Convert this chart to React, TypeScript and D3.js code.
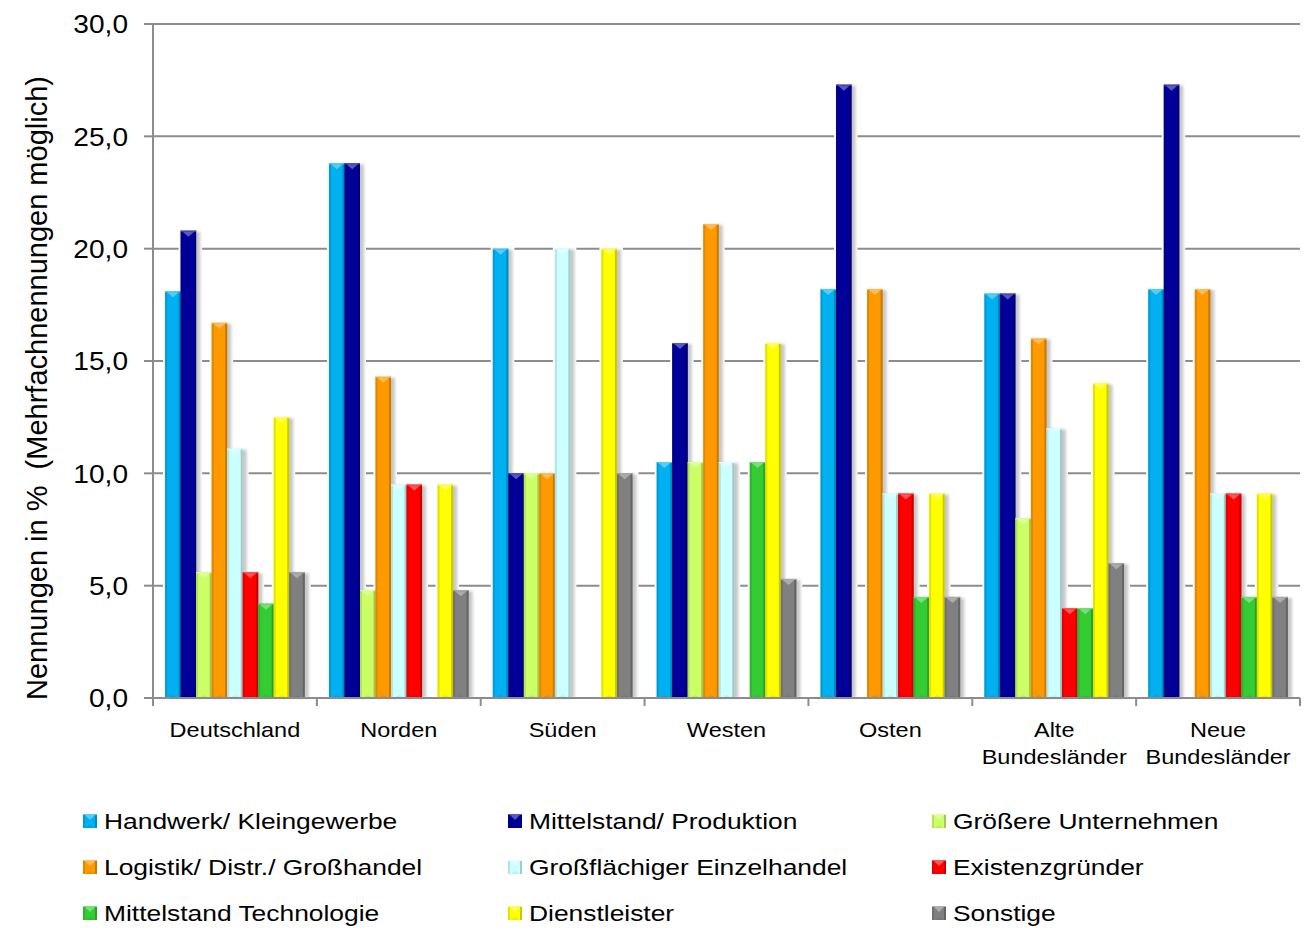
import React from "react";
import * as d3 from "d3";

const categories = [
  ["Deutschland"],
  ["Norden"],
  ["Süden"],
  ["Westen"],
  ["Osten"],
  ["Alte", "Bundesländer"],
  ["Neue", "Bundesländer"],
];

const seriesNames = [
  "Handwerk/ Kleingewerbe",
  "Mittelstand/ Produktion",
  "Größere Unternehmen",
  "Logistik/ Distr./ Großhandel",
  "Großflächiger Einzelhandel",
  "Existenzgründer",
  "Mittelstand Technologie",
  "Dienstleister",
  "Sonstige",
];

const seriesColors = [
  "#00b0f0", "#000099", "#ccff66", "#ff9900", "#ccffff",
  "#ff0000", "#33cc33", "#ffff00", "#808080",
];

// values per series, one entry per category
const handwerk = [18.1, 23.8, 20.0, 10.5, 18.2, 18.0, 18.2];
const mittelstand = [20.8, 23.8, 10.0, 15.8, 27.3, 18.0, 27.3];
const groessere = [5.6, 4.8, 10.0, 10.5, 0, 8.0, 0];
const logistik = [16.7, 14.3, 10.0, 21.1, 18.2, 16.0, 18.2];
const grossflaechig = [11.1, 9.5, 20.0, 10.5, 9.1, 12.0, 9.1];
const existenz = [5.6, 9.5, 0, 0, 9.1, 4.0, 9.1];
const technologie = [4.2, 0, 0, 10.5, 4.5, 4.0, 4.5];
const dienstleister = [12.5, 9.5, 20.0, 15.8, 9.1, 14.0, 9.1];
const sonstige = [5.6, 4.8, 10.0, 5.3, 4.5, 6.0, 4.5];

const seriesValues = [
  handwerk, mittelstand, groessere, logistik, grossflaechig,
  existenz, technologie, dienstleister, sonstige,
];

const yTicks = [0, 5, 10, 15, 20, 25, 30];

const FONT = "'Liberation Sans', Arial, sans-serif";
const GRID = "#8c8c8c";

function Bevel({ x, y, w, h, color }: { x: number; y: number; w: number; h: number; color: string }) {
  const c = d3.color(color)!;
  const light = d3.interpolateRgb(color, "#ffffff")(0.35);
  const dark = c.darker(0.6).formatHex();
  const darker = c.darker(1).formatHex();
  const side = Math.min(2, w / 6);
  const tri = Math.min(5, h / 2);
  return (
    <g>
      <rect x={x} y={y} width={w} height={h} fill={color} />
      <rect x={x} y={y} width={side} height={h} fill={dark} opacity={0.6} />
      <rect x={x + w - side} y={y} width={side} height={h} fill={darker} opacity={0.7} />
      <rect x={x} y={y} width={w} height={1} fill={light} />
      <polygon
        points={`${x + side},${y + 1} ${x + w - side},${y + 1} ${x + w / 2},${y + 1 + tri}`}
        fill={light}
      />
      <polygon
        points={`${x + side},${y + h} ${x + w - side},${y + h} ${x + w / 2},${y + h - Math.min(3, h / 3)}`}
        fill={dark}
        opacity={0.35}
      />
    </g>
  );
}

export default function App() {
  const width = 1307;
  const height = 940;
  const x0 = 153;
  const x1 = 1300;

  const y = d3.scaleLinear().domain([0, 30]).range([698, 24]);
  const xGroup = d3
    .scaleBand<number>()
    .domain(d3.range(categories.length))
    .range([x0, x1])
    .paddingInner(0)
    .paddingOuter(0);
  const xBar = d3
    .scaleBand<number>()
    .domain(d3.range(seriesNames.length))
    .range([0, xGroup.bandwidth()])
    .paddingInner(0)
    .paddingOuter(0.78);

  const fmt = (v: number) => d3.format(".1f")(v).replace(".", ",");

  const bars: { x: number; y: number; w: number; h: number; color: string; key: string }[] = [];
  categories.forEach((_, ci) => {
    seriesValues.forEach((vals, si) => {
      const v = vals[ci];
      if (v <= 0) return;
      const bx = xGroup(ci)! + xBar(si)!;
      const by = y(v);
      bars.push({ x: bx, y: by, w: xBar.bandwidth(), h: y(0) - by, color: seriesColors[si], key: `${ci}-${si}` });
    });
  });

  const legendCols = [83, 508, 932];
  const legendRows = [821, 867, 913];

  return (
    <svg width={width} height={height} style={{ display: "block", position: "absolute", left: 0, top: 0 }}>
      <defs>
        <filter id="shadowBlur" x="-50%" y="-10%" width="200%" height="120%">
          <feGaussianBlur stdDeviation="1.8" />
        </filter>
      </defs>
      <rect width={width} height={height} fill="#fff" />

      {/* gridlines */}
      {yTicks.filter((t) => t > 0).map((t) => (
        <line key={t} x1={x0} x2={x1} y1={y(t)} y2={y(t)} stroke={GRID} strokeWidth={2} />
      ))}

      {/* gaps in the grid round each bar */}
      {bars.map((b) => (
        <rect key={"m" + b.key} x={b.x - 2} y={b.y - 2} width={b.w + 8} height={b.h + 1} fill="#fff" />
      ))}

      {/* bars with shadow */}
      {bars.map((b) => (
        <g key={b.key}>
          <rect
            x={b.x + 2}
            y={b.y + 1}
            width={b.w + 2}
            height={b.h - 1}
            fill="#000"
            opacity={0.22}
            filter="url(#shadowBlur)"
          />
          <Bevel x={b.x} y={b.y} w={b.w} h={b.h} color={b.color} />
        </g>
      ))}

      {/* y axis */}
      <line x1={x0} x2={x0} y1={y(30)} y2={y(0)} stroke={GRID} strokeWidth={2} />
      {yTicks.map((t) => (
        <g key={"yt" + t}>
          <line x1={x0 - 9} x2={x0} y1={y(t)} y2={y(t)} stroke={GRID} strokeWidth={2} />
          <text
            transform={`translate(128,${y(t) + 9.3}) scale(1.08,1)`}
            textAnchor="end"
            fontFamily={FONT}
            fontSize={26}
            fill="#000"
          >
            {fmt(t)}
          </text>
        </g>
      ))}

      {/* x axis */}
      <line x1={x0} x2={x1} y1={y(0)} y2={y(0)} stroke={GRID} strokeWidth={2} />
      {d3.range(categories.length + 1).map((i) => {
        const tx = i < categories.length ? xGroup(i)! : x1;
        return <line key={"xt" + i} x1={tx} x2={tx} y1={y(0)} y2={y(0) + 8} stroke={GRID} strokeWidth={2} />;
      })}
      {categories.map((lines, ci) => (
        <g key={"cl" + ci}>
          {lines.map((ln, li) => (
            <text
              key={li}
              transform={`translate(${xGroup(ci)! + xGroup.bandwidth() / 2},${737 + li * 27}) scale(1.12,1)`}
              textAnchor="middle"
              fontFamily={FONT}
              fontSize={21}
              fill="#000"
            >
              {ln}
            </text>
          ))}
        </g>
      ))}

      {/* y axis title */}
      <text
        transform="translate(47,388) rotate(-90)"
        textAnchor="middle"
        fontFamily={FONT}
        fontSize={29}
        fill="#000"
        style={{ whiteSpace: "pre" }}
      >
        {"Nennungen in %  (Mehrfachnennungen möglich)"}
      </text>

      {/* legend */}
      {seriesNames.map((name, i) => {
        const lx = legendCols[i % 3];
        const ly = legendRows[Math.floor(i / 3)];
        return (
          <g key={"lg" + i}>
            <Bevel x={lx} y={ly - 7} w={14} h={14} color={seriesColors[i]} />
            <text
              transform={`translate(${lx + 21},${ly + 8}) scale(1.2,1)`}
              fontFamily={FONT}
              fontSize={22}
              fill="#000"
            >
              {name}
            </text>
          </g>
        );
      })}
    </svg>
  );
}
